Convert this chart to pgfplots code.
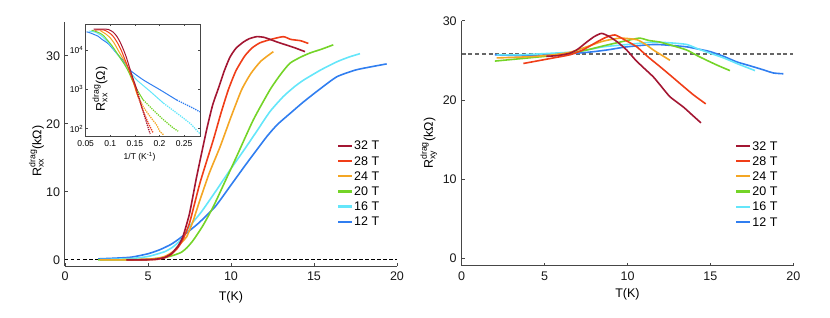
\documentclass[border=0pt]{standalone}
\usepackage{fontspec}
\setmainfont{Liberation Sans}
\usepackage{amsmath}
\usepackage{pgfplots}
\pgfplotsset{compat=1.18}
\usepackage{pgfplotstable}

\definecolor{c32}{RGB}{163,22,50}
\definecolor{c28}{RGB}{240,62,24}
\definecolor{c24}{RGB}{244,166,36}
\definecolor{c20}{RGB}{116,212,40}
\definecolor{c16}{RGB}{100,230,250}
\definecolor{c12}{RGB}{48,126,240}
\definecolor{axgray}{RGB}{70,70,70}

% ---------- left panel: R_xx (kOhm) vs T (K)
\pgfplotstableread{
T R
3.7 0.0
4.5 0.01
5.0 0.03
5.5 0.1
6.0 0.35
6.4 0.9
6.8 2.0
7.1 3.4
7.5 6.8
7.93 12.2
8.53 19.1
8.9 22.8
9.24 25.2
9.6 27.8
9.94 29.8
10.3 31.1
10.74 32.0
11.1 32.5
11.55 32.8
12.0 32.7
12.35 32.4
12.8 32.0
13.3 31.6
13.8 31.2
14.46 30.6
}\xxA
\pgfplotstableread{
T R
3.7 0.0
5.0 0.02
5.5 0.07
6.0 0.3
6.4 0.8
6.8 1.8
7.1 3.0
7.5 5.4
8.13 11.3
8.93 17.6
9.4 21.6
9.84 25.0
10.3 27.8
10.84 30.0
11.3 31.2
11.75 31.9
12.4 32.4
13.15 32.8
13.6 32.4
14.2 32.2
14.66 31.8
}\xxB
\pgfplotstableread{
T R
2.1 0.0
4.0 0.02
5.0 0.1
5.5 0.2
6.0 0.5
6.5 1.2
7.0 2.5
7.33 3.4
7.7 5.6
8.13 8.8
8.7 12.8
9.34 16.6
10.0 21.0
10.64 25.0
11.2 27.4
11.8 29.2
12.55 30.6
}\xxC
\pgfplotstableread{
T R
2.0 0.0
4.0 0.02
5.0 0.1
6.0 0.35
6.5 0.65
7.0 1.1
7.35 1.8
7.73 2.9
8.3 5.0
8.93 7.8
9.6 11.3
10.34 15.2
11.35 20.6
12.35 25.0
13.0 27.3
13.55 28.9
14.2 29.8
14.76 30.4
15.5 31.0
16.16 31.6
}\xxD
\pgfplotstableread{
T R
2.1 0.05
3.0 0.1
4.0 0.2
5.0 0.5
6.0 1.2
6.5 1.9
7.0 3.0
7.53 5.0
8.2 7.0
9.0 9.8
9.94 13.2
10.8 16.2
11.55 18.9
12.35 21.8
13.15 24.0
13.8 25.4
14.36 26.4
15.4 27.9
16.37 29.1
17.1 29.8
17.77 30.3
}\xxE
\pgfplotstableread{
T R
2.0 0.15
3.0 0.25
4.0 0.4
5.0 0.9
5.72 1.5
6.4 2.3
6.93 3.2
8.0 5.3
9.04 7.8
10.0 11.0
10.95 14.2
12.15 18.1
12.8 19.9
13.55 21.5
14.36 23.2
15.3 25.0
16.37 26.9
17.5 27.9
18.5 28.4
19.38 28.8
}\xxF

% ---------- inset: R_xx (Ohm) vs 1/T
\pgfplotstableread{
x R
0.066 33900
0.08 33900
0.096 33100
0.106 28200
0.113 22400
0.12 15800
0.127 10000
0.133 6310
0.143 2510
0.154 1000
0.164 355
0.174 141
0.181 74
}\inA
\pgfplotstableread{
x R
0.068 31600
0.076 32400
0.085 32400
0.092 30200
0.1016 25100
0.108 20400
0.116 14100
0.123 9330
0.13 5620
0.138 3160
0.148 1410
0.157 631
0.167 282
0.177 141
0.187 79
}\inB
\pgfplotstableread{
x R
0.0797 30900
0.0914 25100
0.0996 20400
0.108 14800
0.117 9330
0.125 6310
0.1346 3890
0.144 2000
0.1536 794
0.167 363
0.181 204
0.194 126
0.201 85
0.208 71
}\inC
\pgfplotstableread{
x R
0.0619 31600
0.0678 30200
0.0727 28800
0.0797 26300
0.0866 22900
0.094 17800
0.1027 13200
0.112 8910
0.12 6310
0.128 4470
0.137 2820
0.145 1660
0.154 1000
0.167 537
0.187 302
0.208 170
0.228 105
0.238 87
}\inD
\pgfplotstableread{
x R
0.0563 30200
0.0619 29500
0.0696 28200
0.0797 24000
0.0889 19100
0.1027 12300
0.114 7940
0.126 4900
0.14 2820
0.1536 1740
0.181 891
0.208 447
0.235 251
0.262 138
0.275 93
0.282 76
}\inE
\pgfplotstableread{
x R
0.0516 28800
0.055 28200
0.0619 26300
0.0655 25100
0.0749 22400
0.083 18600
0.0967 14100
0.1145 7760
0.125 5620
0.14 3090
0.167 1740
0.201 977
0.235 537
0.269 331
0.282 269
}\inF

% ---------- right panel: R_xy (kOhm) vs T (K)
\pgfplotstableread{
T R
5.1 25.5
5.8 25.6
6.53 25.9
7.0 26.4
7.54 27.3
8.0 28.0
8.44 28.4
8.9 28.0
9.4 27.3
9.95 26.3
10.5 25.0
11.0 24.0
11.56 22.9
12.0 21.8
12.56 20.4
13.37 19.1
13.9 18.1
14.43 17.1
}\xyA
\pgfplotstableread{
T R
3.72 24.6
4.5 24.9
5.53 25.3
6.53 25.7
7.3 26.3
8.14 27.3
8.7 27.9
9.25 28.2
9.9 27.5
10.56 26.7
11.2 25.5
11.96 24.2
12.7 22.9
13.37 21.7
14.0 20.6
14.72 19.5
}\xyB
\pgfplotstableread{
T R
2.11 25.3
3.5 25.4
4.5 25.5
5.53 25.7
6.5 26.0
7.54 26.7
8.5 27.4
9.55 27.8
10.56 27.6
11.1 27.0
11.56 26.3
12.1 25.6
12.56 25.0
}\xyC
\pgfplotstableread{
T R
2.0 24.9
3.0 25.1
4.52 25.4
6.0 25.7
7.54 26.3
8.5 26.8
9.55 27.3
10.2 27.6
10.75 27.8
11.3 27.5
11.96 27.3
12.8 26.8
13.57 26.3
14.2 25.6
14.78 25.0
15.5 24.3
16.18 23.7
}\xyD
\pgfplotstableread{
T R
2.1 25.7
3.5 25.7
5.5 25.9
7.0 26.1
8.54 26.7
10.0 27.0
11.56 27.3
12.6 27.2
13.57 27.0
14.3 26.4
14.98 25.9
15.8 25.3
16.59 24.6
17.2 24.1
17.69 23.7
}\xyE
\pgfplotstableread{
T R
2.0 25.7
3.5 25.6
5.5 25.7
7.54 26.0
8.74 26.3
9.95 26.7
11.56 27.0
12.5 26.9
13.57 26.7
14.3 26.4
14.98 26.1
15.8 25.5
16.59 24.8
17.4 24.3
18.19 23.8
18.8 23.4
19.4 23.3
}\xyF

\pgfplotsset{
  mainax/.style={
    scale only axis,
    axis x line*=bottom, axis y line*=left,
    axis line style={axgray, line width=1pt},
    every tick/.style={axgray, line width=0.8pt},
    major tick length=3pt,
    xmin=0, xmax=20,
    xtick={0,5,10,15,20},
    tick label style={font=\fontsize{12.5}{14}\selectfont, text=black!90},
    label style={font=\fontsize{12.5}{14}\selectfont},
    /pgf/number format/assume math mode=true,
    xticklabel style={yshift=-2.5pt},
    yticklabel style={xshift=-1.5pt},
    legend cell align=left,
    legend image code/.code={\draw[#1] (0pt,0pt) -- (14pt,0pt);},
    legend style={draw=none, fill=none, inner sep=0pt, row sep=4.9pt,
      font=\fontsize{12.5}{14}\selectfont,
      nodes={inner sep=1pt, text height=8.3pt, text depth=0pt}},
  },
  crv/.style={line width=1.6pt, forget plot, smooth, tension=0.35},
  icrv/.style={line width=1pt, smooth, tension=0.35},
  idot/.style={line width=1.3pt, densely dotted, smooth, tension=0.35},
  lgl/.style={line width=2.3pt},
}

\begin{document}
\begin{tikzpicture}[x=1pt,y=1pt]
\path[use as bounding box] (0,0) rectangle (830,317);

% ================= left panel
\begin{axis}[mainax,
  at={(65pt,51pt)}, anchor=south west,
  width=332pt, height=244.3pt,
  ymin=-0.9, ymax=35,
  ytick={0,10,20,30},
  xlabel={T(K)},
  xlabel style={at={(axis description cs:0.5,0)}, anchor=center, yshift=-31pt},
  ylabel={R$^{\text{drag}}_{\text{xx}}$(kΩ)},
  ylabel style={at={(axis description cs:-0.086,0.47)}, anchor=center},
  legend style={at={(axis cs:16.37,17.55)}, anchor=north west},
]
\addlegendimage{c32, lgl}\addlegendentry{32 T}
\addlegendimage{c28, lgl}\addlegendentry{28 T}
\addlegendimage{c24, lgl}\addlegendentry{24 T}
\addlegendimage{c20, lgl}\addlegendentry{20 T}
\addlegendimage{c16, lgl}\addlegendentry{16 T}
\addlegendimage{c12, lgl}\addlegendentry{12 T}
\addplot[black, dash pattern=on 3.5pt off 2.5pt, line width=0.8pt, forget plot] coordinates {(0,0) (20,0)};
\addplot[crv, c12] table[x=T,y=R] {\xxF};
\addplot[crv, c16] table[x=T,y=R] {\xxE};
\addplot[crv, c20] table[x=T,y=R] {\xxD};
\addplot[crv, c24] table[x=T,y=R] {\xxC};
\addplot[crv, c28] table[x=T,y=R] {\xxB};
\addplot[crv, c32] table[x=T,y=R] {\xxA};
\end{axis}

% ================= inset
\begin{axis}[
  at={(85.7pt,180.3pt)}, anchor=south west,
  width=114.6pt, height=112.4pt, scale only axis,
  ymode=log, xmin=0.05, xmax=0.283, ymin=63, ymax=44700,
  axis line style={axgray, line width=0.8pt},
  every tick/.style={axgray, line width=0.6pt},
  major tick length=2pt, minor tick length=0pt,
  xtick={0.05,0.1,0.15,0.2,0.25},
  xticklabels={0.05,0.1,0.15,0.2,0.25},
  ytick={100,1000,10000},
  yticklabels={10\textsuperscript{2},10\textsuperscript{3},10\textsuperscript{4}},
  tick label style={font=\fontsize{8.5}{10}\selectfont},
  yticklabel style={xshift=1pt},
  xlabel={1/T (K\textsuperscript{-1})},
  xlabel style={font=\fontsize{8.5}{10}\selectfont, at={(axis description cs:0.47,0)}, anchor=center, yshift=-20pt},
]
\addplot[icrv, c12, restrict x to domain=0:0.235] table[x=x,y=R] {\inF};
\addplot[idot, c12, restrict x to domain=0.235:1] table[x=x,y=R] {\inF};
\addplot[icrv, c16, restrict x to domain=0:0.208] table[x=x,y=R] {\inE};
\addplot[idot, c16, restrict x to domain=0.208:1] table[x=x,y=R] {\inE};
\addplot[icrv, c20, restrict x to domain=0:0.167] table[x=x,y=R] {\inD};
\addplot[idot, c20, restrict x to domain=0.167:1] table[x=x,y=R] {\inD};
\addplot[icrv, c24, restrict x to domain=0:0.1536] table[x=x,y=R] {\inC};
\addplot[idot, c24, restrict x to domain=0.1536:1] table[x=x,y=R] {\inC};
\addplot[icrv, c28, restrict x to domain=0:0.157] table[x=x,y=R] {\inB};
\addplot[idot, c28, restrict x to domain=0.157:1] table[x=x,y=R] {\inB};
\addplot[icrv, c32, restrict x to domain=0:0.154] table[x=x,y=R] {\inA};
\addplot[idot, c32, restrict x to domain=0.154:1] table[x=x,y=R] {\inA};
\node[rotate=90, font=\fontsize{12.5}{14}\selectfont] at (axis description cs:0.125,0.424) {R$^{\text{drag}}_{\text{xx}}$(Ω)};
\end{axis}

% ================= right panel
\begin{axis}[mainax,
  at={(461.7pt,51.3pt)}, anchor=south west,
  width=331.6pt, height=245pt,
  ymin=-0.93, ymax=30,
  ytick={0,10,20,30},
  xlabel={T(K)},
  xlabel style={at={(axis description cs:0.5,0)}, anchor=center, yshift=-29pt},
  ylabel={R$^{\text{drag}}_{\text{xy}}$(kΩ)},
  ylabel style={at={(axis description cs:-0.099,0.5)}, anchor=center},
  legend style={at={(axis cs:16.48,14.87)}, anchor=north west},
]
\addlegendimage{c32, lgl}\addlegendentry{32 T}
\addlegendimage{c28, lgl}\addlegendentry{28 T}
\addlegendimage{c24, lgl}\addlegendentry{24 T}
\addlegendimage{c20, lgl}\addlegendentry{20 T}
\addlegendimage{c16, lgl}\addlegendentry{16 T}
\addlegendimage{c12, lgl}\addlegendentry{12 T}
\addplot[black!60, dash pattern=on 4pt off 2.7pt, line width=1.1pt, forget plot] coordinates {(0,25.8) (20,25.8)};
\addplot[crv, c12] table[x=T,y=R] {\xyF};
\addplot[crv, c16] table[x=T,y=R] {\xyE};
\addplot[crv, c20] table[x=T,y=R] {\xyD};
\addplot[crv, c24] table[x=T,y=R] {\xyC};
\addplot[crv, c28] table[x=T,y=R] {\xyB};
\addplot[crv, c32] table[x=T,y=R] {\xyA};
\end{axis}
\end{tikzpicture}
\end{document}
